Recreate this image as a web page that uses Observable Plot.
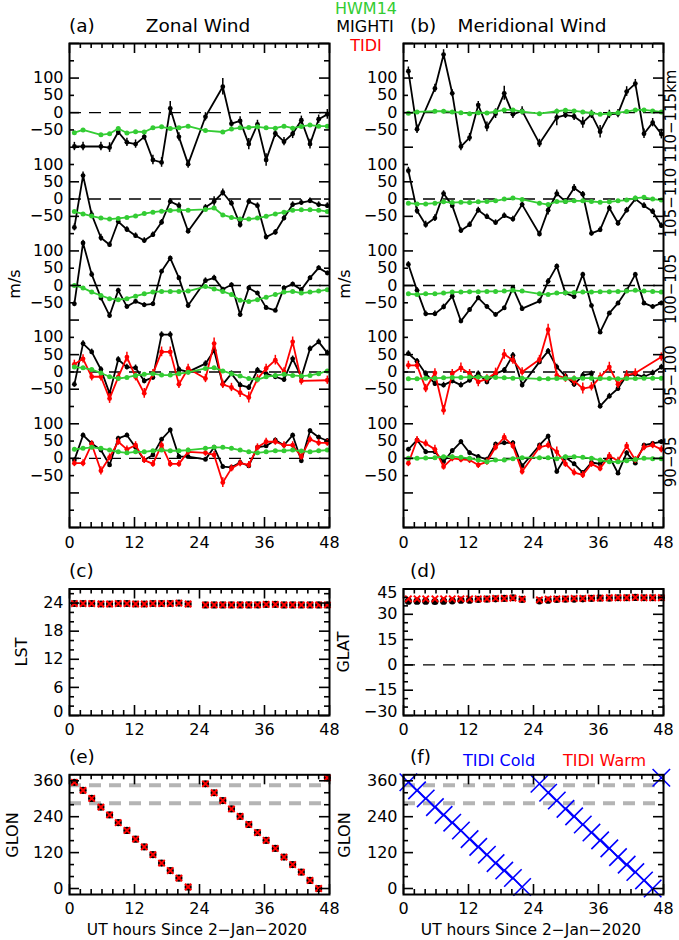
<!DOCTYPE html>
<html><head><meta charset="utf-8">
<script src="https://cdn.jsdelivr.net/npm/d3@7"></script>
<script src="https://cdn.jsdelivr.net/npm/@observablehq/plot@0.6"></script>
<style>
body{margin:0;background:#fff;}
#root{position:relative;width:679px;height:940px;overflow:hidden;background:#fff;font-family:"DejaVu Sans",sans-serif;color:#000;}
.pan{position:absolute;}
.lbl{position:absolute;white-space:nowrap;line-height:1;}
.rot{position:absolute;white-space:nowrap;line-height:1;transform:translate(-50%,-50%) rotate(-90deg);}
</style></head><body><div id="root"></div>
<script>
// ---------- DATA ----------
// UT hours since 2-Jan-2020 of each sample (29 samples)
const time = [0.9,2.5,4.1,5.8,7.4,9.0,10.6,12.2,13.8,15.4,17.0,18.6,20.2,21.9, 25.1,26.7,28.3,29.9,31.5,33.1,34.7,36.3,38.0,39.6,41.2,42.8,44.4,46.0,47.6];

const bandLabels = ["90\u221295","95\u2212100","100\u2212105","105\u2212110","110\u2212115km"];
const bandOffset = [0,250,500,750,1000];

// Zonal wind (m/s)
const zonalMighti110 = [-98,-98,null,-98,-101,-56,-86,-91,-70,-137,-144,12,-70,-149, -12,null,75,-32,-24,-91,-34,-137,-60,-84,-61,-22,-91,-19,-5];
const zonalHwm110    = [-58,-50,null,-64,-61,-46,-59,-55,-56,-44,-41,-46,-44,-39, -52,null,-56,-47,-44,-43,-41,-44,-45,-39,-45,-40,-36,-39,-39];
const zonalMighti105 = [-82,68,-45,-112,-132,-65,-88,-106,-120,-103,-67,-7,-19,-93, -24,-7,19,-12,-74,-7,-19,-110,-96,-55,-16,-10,-5,-16,-19];
const zonalHwm105    = [-36,-43,-49,-55,-58,-56,-53,-49,-42,-38,-35,-33,-32,-32, -30,-26,-46,-53,-58,-58,-55,-50,-43,-38,-32,-31,-31,-32,-36];
const zonalMighti100 = [-53,123,32,-36,-87,-14,-61,-46,-56,-53,41,79,22,-58, 14,22,-11,2,-84,-7,-22,-64,-72,-7,4,-12,22,51,36];
const zonalHwm100    = [0,-7,-19,-29,-38,-41,-38,-31,-24,-19,-17,-17,-17,-16, -3,-10,-17,-26,-43,-46,-41,-34,-26,-19,-17,-22,-19,-16,-12];
const zonalMighti95  = [-36,82,58,7,-62,36,14,12,-26,-16,108,108,7,0, 24,62,-36,-5,-38,-45,5,-5,-14,-22,38,-15,67,87,55];
const zonalTidi95    = [22,38,-14,-14,-77,-15,43,-14,-62,-5,58,58,-36,10, -19,82,-36,-45,-60,-74,-20,10,34,0,87,-26,null,null,-24];
const zonalHwm95     = [14,12,7,-3,-14,-19,-16,-10,-7,-5,-9,-9,-5,-1, 10,12,3,-5,-12,-19,-22,-14,-10,-7,-10,-12,-10,-5,3];
const zonalMighti90  = [-5,67,43,24,-19,58,67,32,-5,10,55,82,5,5, -3,32,-24,-26,-12,-22,32,36,53,38,67,-7,80,61,51];
const zonalTidi90    = [-14,-14,41,-36,3,48,26,38,-5,-16,38,-16,-16,19, 16,10,-70,-29,-14,-19,32,48,48,38,38,5,55,45,45];
const zonalHwm90     = [26,29,32,29,24,19,16,19,19,22,24,22,22,24, 29,32,32,29,24,19,16,19,22,22,24,21,19,22,24];

// Meridional wind (m/s)
const merMighti110 = [120,-48,null,70,168,56,-98,-72,22,-41,-3,56,-5,5, -89,null,-14,-7,-11,-29,-5,-55,-5,-3,61,84,-61,-29,-62];
const merHwm110    = [-2,2,null,4,4,2,0,-3,0,-1,3,8,8,3, -3,null,4,7,5,2,-1,-5,-3,0,3,8,8,5,2];
const merMighti105 = [82,-34,-74,-55,16,-19,-91,-74,-32,-51,-68,-48,-58,-16, -101,-32,16,-7,32,14,-99,-89,-26,-70,-32,0,-19,-36,-77];
const merHwm105    = [-12,-14,-14,-12,-8,-10,-9,-10,-8,-7,-5,0,3,-1, -12,-16,-7,-7,-5,-5,-7,-9,-8,-5,-3,3,5,0,-3];
const merMighti100 = [61,-14,-82,-82,-62,-31,-103,-70,-36,-61,-84,-65,-7,-67, -45,12,56,-22,-32,32,-58,-135,-80,-51,-14,32,-51,-61,-51];
const merHwm100    = [-24,-26,-24,-24,-22,-19,-19,-18,-18,-17,-17,-16,-14,-16, -24,-26,-22,-21,-20,-19,-19,-18,-18,-17,-16,-14,-16,-17,-19];
const merMighti95  = [53,31,-5,-34,-38,-26,-38,-24,-5,-29,-5,5,48,-38, 29,60,14,-12,-36,-10,-5,-99,-70,-48,-10,-7,-14,-3,14];
const merTidi95    = [19,19,-48,-3,-111,-5,12,-5,-29,-20,-3,51,34,0, 36,122,-10,-18,-26,-48,-43,-15,14,-36,-10,-3,null,null,43];
const merHwm95     = [-20,-20,-18,-18,-17,-16,-16,-15,-15,-16,-16,-17,-18,-18, -20,-20,-19,-19,-18,-18,-18,-19,-19,-20,-19,-19,-18,-18,-18];
const merMighti90  = [26,53,19,19,-10,22,48,16,5,-3,41,45,45,-22, 38,64,-38,3,-16,-41,-12,-16,5,-43,16,-14,38,43,48];
const merTidi90    = [-14,53,43,26,-24,0,-3,-5,-19,-10,32,61,36,-38, 32,38,19,-16,-41,-48,-16,-29,7,-7,36,-5,32,38,26];
const merHwm90     = [0,0,1,2,5,5,3,0,-5,-10,-5,-5,-1,2, 2,2,-1,5,5,3,0,-5,-10,-10,-7,-3,0,-1,-1];

// Error bars (m/s)
const errMighti110 = [12,12,null,12,14,10,12,12,10,14,14,20,12,12, 12,null,24,10,12,16,12,18,12,12,14,12,14,12,14];
const errMighti105 = [10,10,10,10,8,8,8,8,8,8,8,8,8,8, 8,14,10,8,10,8,8,8,8,8,8,8,8,8,8];
const errMighti100 = [8,8,8,8,8,6,6,6,6,6,6,6,6,8, 8,8,6,6,8,6,6,6,6,6,6,6,6,6,6];
const errMighti95  = [8,8,8,8,8,8,8,8,8,8,8,8,8,8, 8,8,8,8,8,8,8,8,8,8,8,8,8,8,8];
const errMighti90  = [6,6,6,6,6,6,6,6,6,6,6,6,6,6, 6,6,6,6,6,6,6,6,6,6,6,6,6,6,6];
const errTidi95    = [12,12,12,12,14,12,14,12,14,12,14,14,12,12, 12,16,12,12,14,16,12,12,14,12,14,12,null,null,12];
const errTidi90    = [10,10,10,12,10,10,10,10,10,10,10,10,10,10, 10,10,14,10,10,10,10,10,10,10,10,10,10,10,10];

// Local solar time (h)
const lstMighti = [23.9,23.9,23.9,23.8,23.8,23.9,23.9,23.8,23.8,23.9,23.9,23.9,24.0,23.8, 23.6,23.6,23.6,23.6,23.6,23.6,23.6,23.7,23.7,23.6,23.6,23.6,23.6,23.6,23.6];
const lstTidi   = [23.9,23.9,23.9,23.8,23.8,23.9,23.9,23.8,23.8,23.9,23.9,23.9,24.0,23.8, 23.6,23.6,23.6,23.6,23.6,23.6,23.6,23.7,23.7,23.6,23.6,23.6,23.6,23.6,23.6];
// Geographic latitude (deg)
const glatMighti = [37.8,37.8,37.8,37.6,37.8,38.0,38.4,38.4,38.8,39.0,39.2,39.4,39.8,38.8, 38.0,38.4,38.8,39.0,39.0,39.2,39.4,39.6,39.6,39.8,39.8,40.0,39.8,39.8,39.8];
const glatTidi   = [39.2,39.2,39.2,39.2,39.2,39.2,39.2,39.2,39.2,39.2,39.4,39.4,39.6,39.0, 38.6,39.0,39.2,39.2,39.4,39.4,39.6,39.6,39.8,39.8,39.8,40.0,39.8,39.8,39.8];
// Geographic longitude (deg)
const glonMighti   = [355,328,301,272,246,220,194,165,139,113,85,60,35,5, 350,320,294,266,241,214,187,161,134,105,80,55,27,0,370];
const glonTidiWarm = [355,328,301,272,246,220,194,165,139,113,85,60,35,5, 350,320,294,266,241,214,187,161,134,105,80,55,27,0,370];
const glonTidiCold = [355,328,301,272,246,220,194,165,139,113,85,60,35,5, 350,320,294,266,241,214,187,161,134,105,80,55,27,0,370];
const glonRefLines = [285,345];

// ---------- HELPERS ----------
const GREEN = "#33cc33", RED = "#ff0000", BLUE = "#0000ff";
const fmt = v => v < 0 ? "\u2212" + Math.abs(v) : String(v);
const seq = (a, b, s) => d3.range(a, b + s / 2, s);
const rows = (vals, errs, off = 0) =>
  time.map((t, i) => ({t, v: vals[i] == null ? null : vals[i] + off, e: errs ? (errs[i] ?? 0) : 0}))
      .filter(d => d.v != null);

function tickMarks(xd, yd, fw, fh, xMaj, xMin, yMaj, yMin) {
  const ux = (xd[1] - xd[0]) / fw, uy = (yd[1] - yd[0]) / fh, L = 10, S = 5, sw = 1.6;
  const m = [];
  for (const [arr, len] of [[xMin, S], [xMaj, L]]) {
    m.push(Plot.ruleX(arr, {x: d => d, y1: yd[0], y2: yd[0] + len * uy, strokeWidth: sw}));
    m.push(Plot.ruleX(arr, {x: d => d, y1: yd[1], y2: yd[1] - len * uy, strokeWidth: sw}));
  }
  for (const [arr, len] of [[yMin, S], [yMaj, L]]) {
    m.push(Plot.ruleY(arr, {y: d => d, x1: xd[0], x2: xd[0] + len * ux, strokeWidth: sw}));
    m.push(Plot.ruleY(arr, {y: d => d, x1: xd[1], x2: xd[1] - len * ux, strokeWidth: sw}));
  }
  return m;
}
const xMaj = [0, 12, 24, 36, 48];
const xMin = seq(2, 46, 2).filter(d => d % 12 !== 0);

function makePlot(o) {
  return Plot.plot({
    width: o.w, height: o.h, marginLeft: o.ml, marginRight: o.mr, marginTop: o.mt, marginBottom: o.mb,
    x: {domain: o.xd, axis: null}, y: {domain: o.yd, axis: null},
    style: {background: "transparent", fontFamily: '"DejaVu Sans", sans-serif', fontSize: "16px", color: "black", overflow: "visible"},
    marks: [
      ...o.marks,
      ...tickMarks(o.xd, o.yd, o.w - o.ml - o.mr, o.h - o.mt - o.mb, xMaj, xMin, o.yMaj, o.yMin),
      Plot.text(xMaj, {x: d => d, text: d => String(d), frameAnchor: "bottom", dy: o.xlabDy}),
      Plot.frame({stroke: "black", strokeWidth: 2})
    ]
  });
}

function place(svg, left, top, w, h) {
  const d = document.createElement("div");
  d.className = "pan";
  Object.assign(d.style, {left: left + "px", top: top + "px", width: w + "px", height: h + "px"});
  d.appendChild(svg);
  document.getElementById("root").appendChild(d);
}

function windPanel(series, showBandLabels) {
  const marks = [Plot.ruleY(bandOffset, {y: d => d, strokeDasharray: "12,8", strokeWidth: 1.4})];
  series.forEach((s, b) => {
    const off = bandOffset[b];
    const k = rows(s.mighti, s.err, off);
    marks.push(Plot.ruleX(k, {x: "t", y1: d => d.v - d.e, y2: d => d.v + d.e, stroke: "black", strokeWidth: 1.5}));
    marks.push(Plot.line(k, {x: "t", y: "v", stroke: "black", strokeWidth: 1.8}));
    marks.push(Plot.dot(k, {x: "t", y: "v", r: 2.4, fill: "black"}));
    if (s.tidi) {
      const r = rows(s.tidi, s.terr, off);
      marks.push(Plot.ruleX(r, {x: "t", y1: d => d.v - d.e, y2: d => d.v + d.e, stroke: RED, strokeWidth: 1.5}));
      marks.push(Plot.line(r, {x: "t", y: "v", stroke: RED, strokeWidth: 1.8}));
      marks.push(Plot.dot(r, {x: "t", y: "v", r: 2.4, fill: RED}));
    }
    const g = rows(s.hwm, null, off);
    marks.push(Plot.line(g, {x: "t", y: "v", stroke: GREEN, strokeWidth: 1.8}));
    marks.push(Plot.dot(g, {x: "t", y: "v", r: 2.5, fill: GREEN}));
  });
  const ylabs = bandOffset.flatMap(off => [-50, 0, 50, 100].map(v => ({y: off + v, s: fmt(v)})));
  marks.push(Plot.text(ylabs, {y: "y", text: "s", frameAnchor: "left", textAnchor: "end", dx: -6}));
  if (showBandLabels) {
    const bl = bandOffset.map((off, i) => ({y: off - 10, s: bandLabels[i]}));
    marks.push(Plot.text(bl, {y: "y", text: "s", frameAnchor: "right", textAnchor: "middle", dx: 8, rotate: -90, fontSize: 15}));
  }
  return marks;
}

const yMajWind = seq(-200, 1200, 100), yMinWind = seq(-150, 1150, 100);

// ---------- PANELS (a), (b) ----------
const zonalSeries = [
  {mighti: zonalMighti90, err: errMighti90, tidi: zonalTidi90, terr: errTidi90, hwm: zonalHwm90},
  {mighti: zonalMighti95, err: errMighti95, tidi: zonalTidi95, terr: errTidi95, hwm: zonalHwm95},
  {mighti: zonalMighti100, err: errMighti100, hwm: zonalHwm100},
  {mighti: zonalMighti105, err: errMighti105, hwm: zonalHwm105},
  {mighti: zonalMighti110, err: errMighti110, hwm: zonalHwm110}
];
const merSeries = [
  {mighti: merMighti90, err: errMighti90, tidi: merTidi90, terr: errTidi90, hwm: merHwm90},
  {mighti: merMighti95, err: errMighti95, tidi: merTidi95, terr: errTidi95, hwm: merHwm95},
  {mighti: merMighti100, err: errMighti100, hwm: merHwm100},
  {mighti: merMighti105, err: errMighti105, hwm: merHwm105},
  {mighti: merMighti110, err: errMighti110, hwm: merHwm110}
];

place(makePlot({w: 340, h: 560, ml: 69, mr: 11, mt: 43, mb: 33, xd: [0, 48], yd: [-200, 1200],
  yMaj: yMajWind, yMin: yMinWind, xlabDy: 20, marks: windPanel(zonalSeries, false)}), 0, 0, 340, 560);
place(makePlot({w: 339, h: 560, ml: 63, mr: 16, mt: 43, mb: 33, xd: [0, 48], yd: [-200, 1200],
  yMaj: yMajWind, yMin: yMinWind, xlabDy: 20, marks: windPanel(merSeries, true)}), 340, 0, 339, 560);

// ---------- PANELS (c)-(f) ----------
function posMarks(blackVals, xVals, xColor, xr, xsw, includeBlack) {
  const m = [];
  if (includeBlack) m.push(Plot.dot(rows(blackVals), {x: "t", y: "v", r: 3.6, fill: "black"}));
  m.push(Plot.dot(rows(xVals), {x: "t", y: "v", symbol: "times", r: xr, stroke: xColor, strokeWidth: xsw, fill: "none"}));
  return m;
}
const ylab = (vals, opts = {}) => Plot.text(vals, {y: d => d, text: d => fmt(d), frameAnchor: "left", textAnchor: "end", dx: -6, ...opts});

// (c) LST
place(makePlot({w: 340, h: 190, ml: 69, mr: 11, mt: 28.5, mb: 35, xd: [0, 48], yd: [0, 27],
  yMaj: seq(0, 24, 6), yMin: seq(2, 26, 2).filter(d => d % 6 !== 0), xlabDy: 19,
  marks: [...posMarks(lstMighti, lstTidi, RED, 3, 2, true), ylab([6, 12, 18, 24]), ylab([0], {dy: -4})]}), 0, 560, 340, 190);
// (d) GLAT
place(makePlot({w: 339, h: 190, ml: 63, mr: 16, mt: 28.5, mb: 35, xd: [0, 48], yd: [-30, 45],
  yMaj: seq(-30, 45, 15), yMin: seq(-25, 40, 5).filter(d => d % 15 !== 0), xlabDy: 19,
  marks: [Plot.ruleY([0], {strokeDasharray: "12,8", strokeWidth: 1.4}),
    ...posMarks(glatMighti, glatTidi, RED, 3, 2, true), ylab([-15, 0, 15, 30]), ylab([45], {dy: 4}), ylab([-30], {dy: -4})]}), 340, 560, 339, 190);
// (e) GLON warm
place(makePlot({w: 340, h: 200, ml: 69, mr: 11, mt: 34.3, mb: 46, xd: [0, 48], yd: [-20, 380],
  yMaj: seq(0, 360, 120), yMin: seq(40, 320, 40).filter(d => d % 120 !== 0), xlabDy: 19,
  marks: [Plot.ruleY(glonRefLines, {y: d => d, stroke: "#b4b4b4", strokeWidth: 4, strokeDasharray: "12,8"}),
    ...posMarks(glonMighti, glonTidiWarm, RED, 3, 2, true), ylab([0, 120, 240, 360])]}), 0, 740, 340, 200);
// (f) GLON cold
place(makePlot({w: 339, h: 200, ml: 63, mr: 16, mt: 34.3, mb: 46, xd: [0, 48], yd: [-20, 380],
  yMaj: seq(0, 360, 120), yMin: seq(40, 320, 40).filter(d => d % 120 !== 0), xlabDy: 19,
  marks: [Plot.ruleY(glonRefLines, {y: d => d, stroke: "#b4b4b4", strokeWidth: 4, strokeDasharray: "12,8"}),
    ...posMarks(null, glonTidiCold, BLUE, 8, 1.6, false), ylab([0, 120, 240, 360])]}), 340, 740, 339, 200);

// ---------- TEXT ----------
const root = document.getElementById("root");
function addText(t, {left, cx, base, fs = 16, color = "#000"}) {
  const d = document.createElement("div");
  d.className = "lbl";
  d.textContent = t;
  d.style.fontSize = fs + "px";
  d.style.color = color;
  d.style.top = (base - 0.846 * fs) + "px";
  if (cx != null) { d.style.left = cx + "px"; d.style.transform = "translateX(-50%)"; }
  else d.style.left = left + "px";
  root.appendChild(d);
}
function addRot(t, cx, cy, fs = 16) {
  const d = document.createElement("div");
  d.className = "rot";
  d.textContent = t;
  d.style.fontSize = fs + "px";
  d.style.left = cx + "px";
  d.style.top = cy + "px";
  root.appendChild(d);
}
addText("(a)", {left: 69, base: 33, fs: 18.5});
addText("Zonal Wind", {cx: 198, base: 33, fs: 18.5});
addText("(b)", {left: 410, base: 33, fs: 18.5});
addText("Meridional Wind", {cx: 532, base: 33, fs: 18.5});
addText("HWM14", {cx: 366, base: 14.5, fs: 16, color: GREEN});
addText("MIGHTI", {cx: 365, base: 33, fs: 16});
addText("TIDI", {cx: 366, base: 52, fs: 16, color: RED});
addText("(c)", {left: 69, base: 578, fs: 18.5});
addText("(d)", {left: 410, base: 578, fs: 18.5});
addText("(e)", {left: 69, base: 763.5, fs: 18.5});
addText("(f)", {left: 410, base: 763.5, fs: 18.5});
addText("TIDI Cold", {left: 463, base: 767, fs: 16, color: BLUE});
addText("TIDI Warm", {left: 563, base: 767, fs: 16, color: RED});
addText("UT hours Since 2\u2212Jan\u22122020", {cx: 197, base: 936.5, fs: 15.5});
addText("UT hours Since 2\u2212Jan\u22122020", {cx: 531, base: 936.5, fs: 15.5});
addRot("m/s", 15, 284);
addRot("m/s", 345, 284);
addRot("LST", 22, 652);
addRot("GLAT", 344, 652);
addRot("GLON", 13, 835);
addRot("GLON", 345, 835);
</script></body></html>
